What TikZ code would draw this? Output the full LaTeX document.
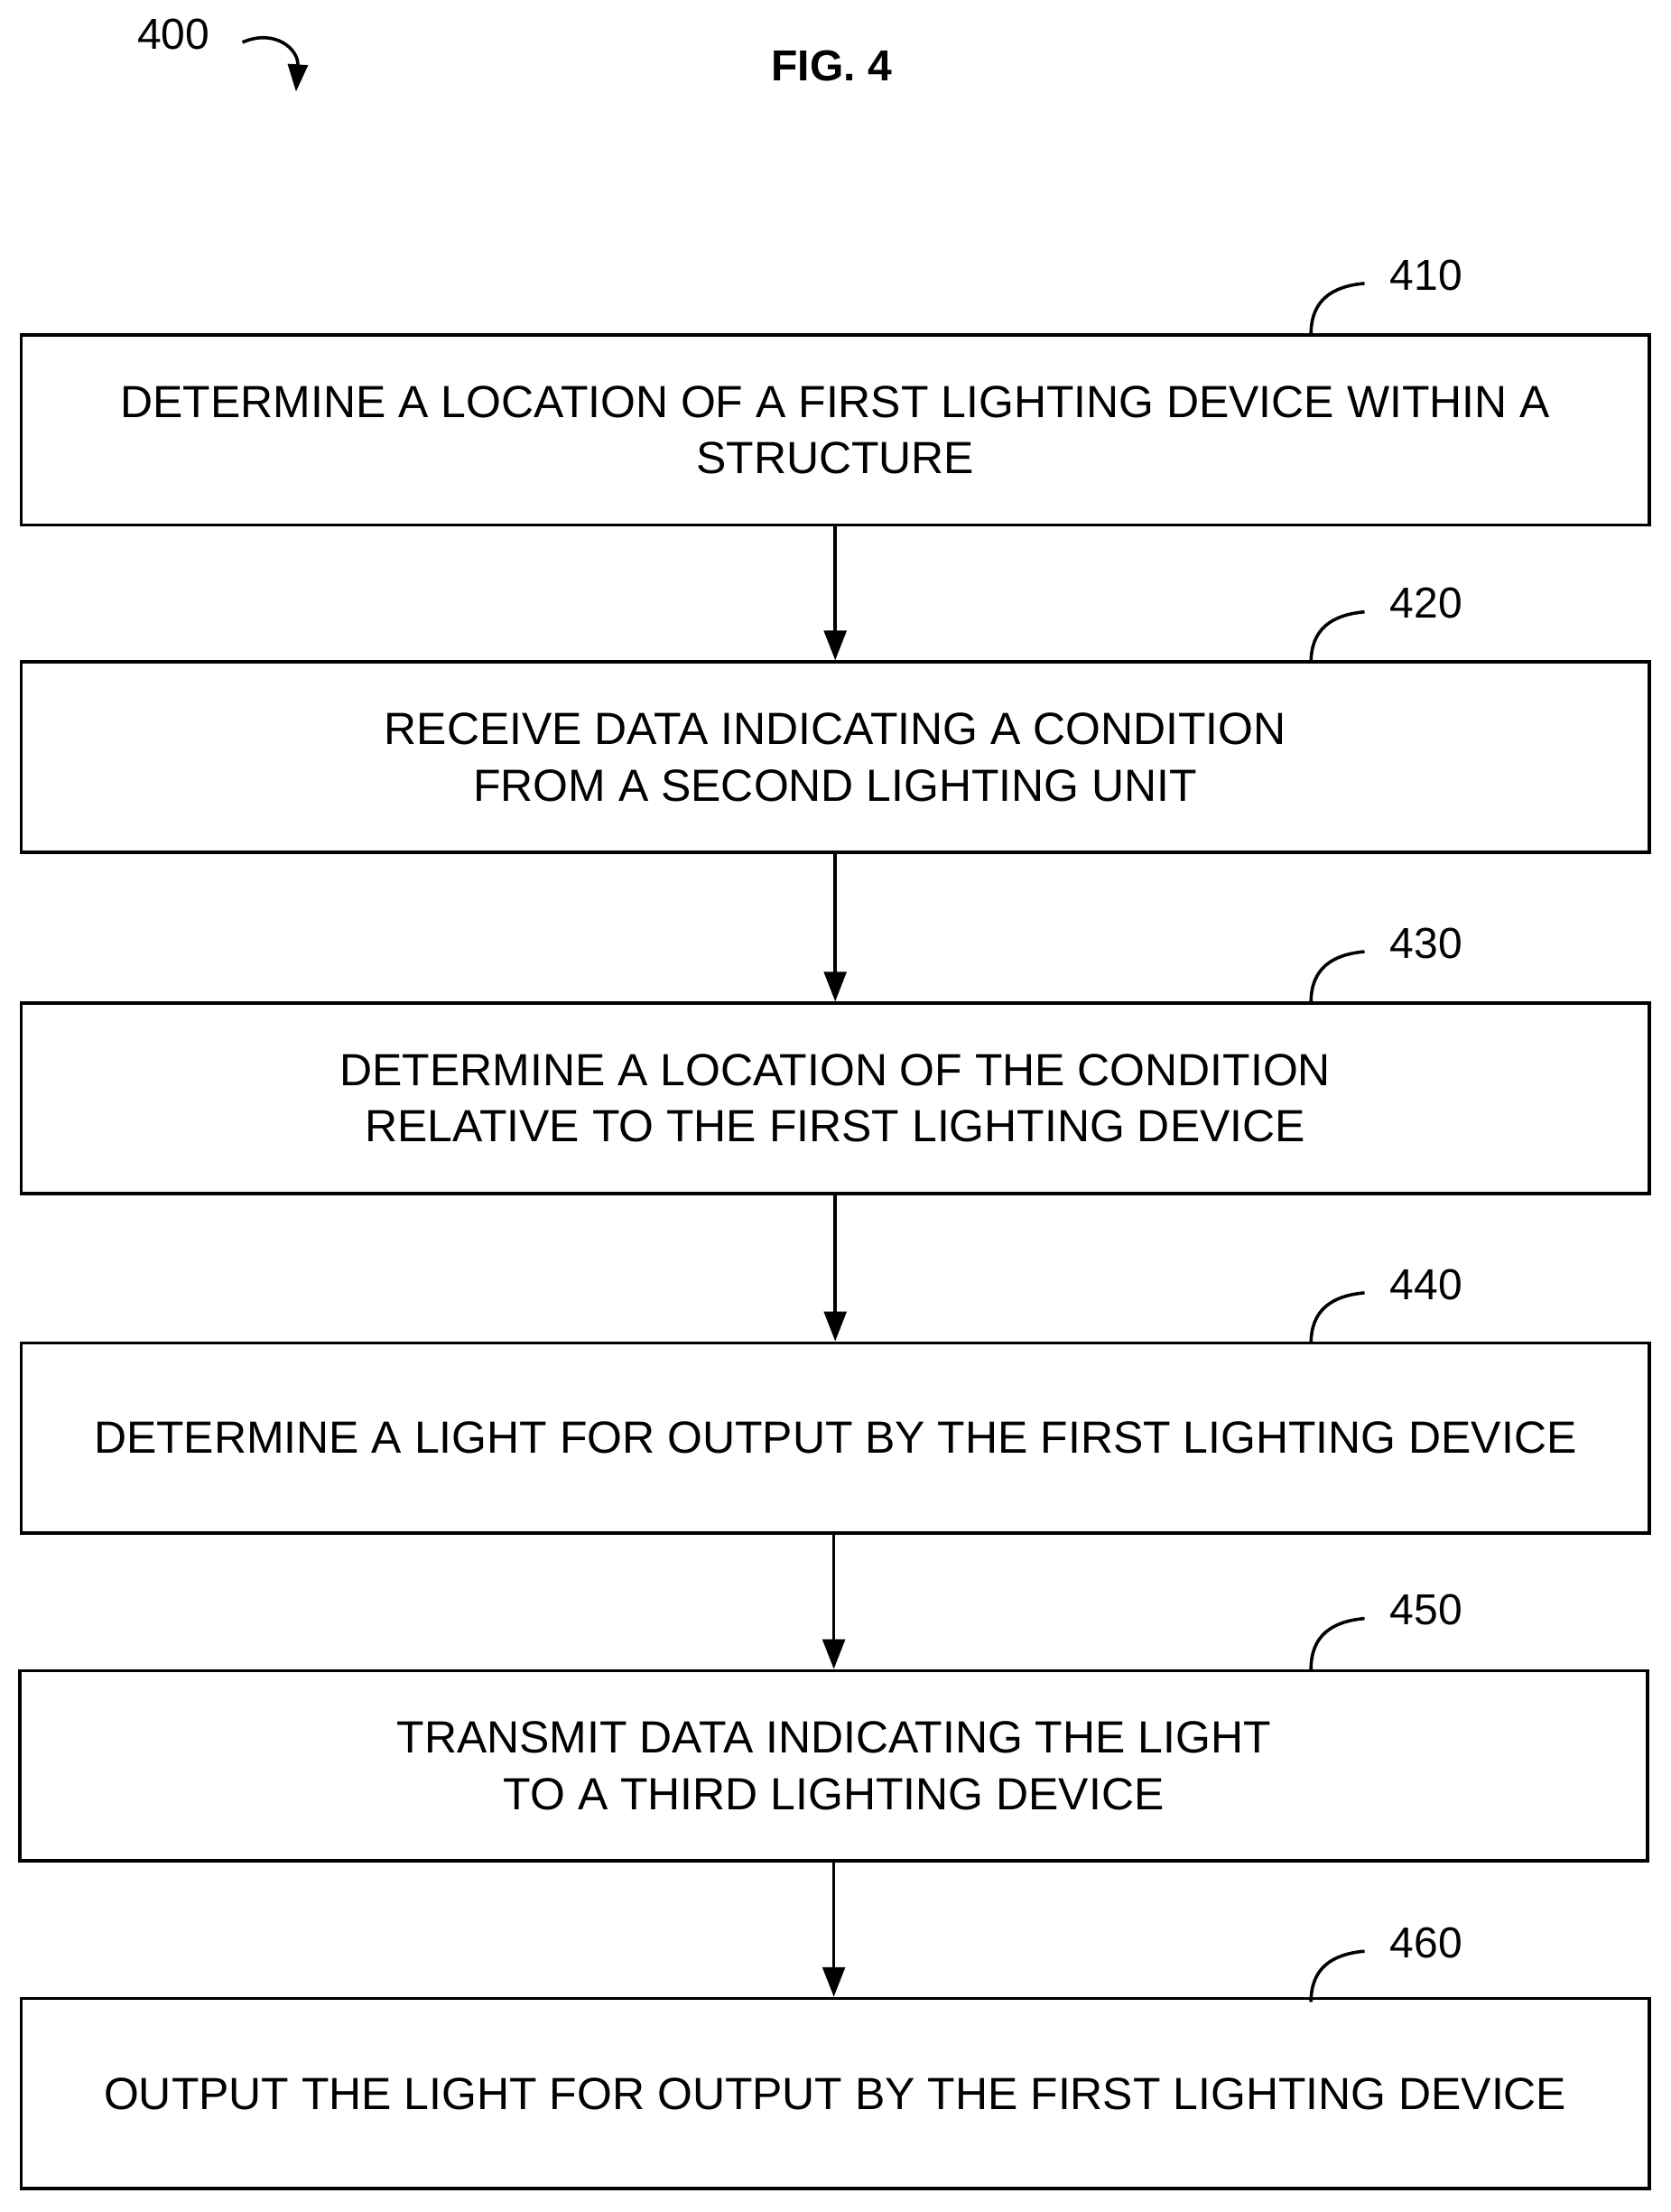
\documentclass[tikz,border=0pt]{standalone}
\usepackage{fontspec}
\setmainfont{Liberation Sans}
\usetikzlibrary{arrows.meta}
\begin{document}
\begin{tikzpicture}[x=0.02cm,y=-0.02cm,
  box/.style={draw,line width=1.3pt,minimum width=23.1cm,minimum height=2.7cm,align=center,font=\fontsize{18.2}{22.8}\selectfont,inner sep=0},
  lbl/.style={font=\fontsize{17.5}{21}\selectfont},
  arr/.style={-{Triangle[length=12pt,width=9pt]},line width=1.3pt},
  hook/.style={line width=1.3pt}]
\useasboundingbox (0,0) rectangle (1185,1569);
\node[lbl] (n400) at (123,24) {400};
\coordinate (a0) at (172,30);
\coordinate (a1) at (210,65);
\draw[hook,-{Triangle[length=11pt,width=8pt]}] (a0) .. controls (195,20) and (212,35) .. (a1);
\node[font=\bfseries\fontsize{17.5}{21}\selectfont] (fig) at (590,47) {FIG. 4};
\node[box] (b1) at (592.5,305) {DETERMINE A LOCATION OF A FIRST LIGHTING DEVICE WITHIN A\\STRUCTURE};
\node[box] (b2) at (592.5,537) {RECEIVE DATA INDICATING A CONDITION\\FROM A SECOND LIGHTING UNIT};
\node[box] (b3) at (592.5,779) {DETERMINE A LOCATION OF THE CONDITION\\RELATIVE TO THE FIRST LIGHTING DEVICE};
\node[box] (b4) at (592.5,1020) {DETERMINE A LIGHT FOR OUTPUT BY THE FIRST LIGHTING DEVICE};
\node[box] (b5) at (591.5,1252.5) {TRANSMIT DATA INDICATING THE LIGHT\\TO A THIRD LIGHTING DEVICE};
\node[box] (b6) at (592.5,1485) {OUTPUT THE LIGHT FOR OUTPUT BY THE FIRST LIGHTING DEVICE};
\draw[arr] (b1.south) -- (b2.north);
\draw[arr] (b2.south) -- (b3.north);
\draw[arr] (b3.south) -- (b4.north);
\draw[arr] ([xshift=-1*0.02cm]b4.south) -- (b5.north);
\draw[arr] (b5.south) -- ([xshift=-1*0.02cm]b6.north);
\foreach \b/\n/\y in {b1/410/195,b2/420/428,b3/430/669,b4/440/911,b5/450/1142,b6/460/1378}{
  \node[lbl,anchor=west] (l\n) at (980,\y) {\n};
  \coordinate (h\n) at (968,\y+6);
  \draw[hook] (930,\y+42) .. controls (930,\y+18) and (945,\y+8) .. (h\n);
}
\end{tikzpicture}
\end{document}
